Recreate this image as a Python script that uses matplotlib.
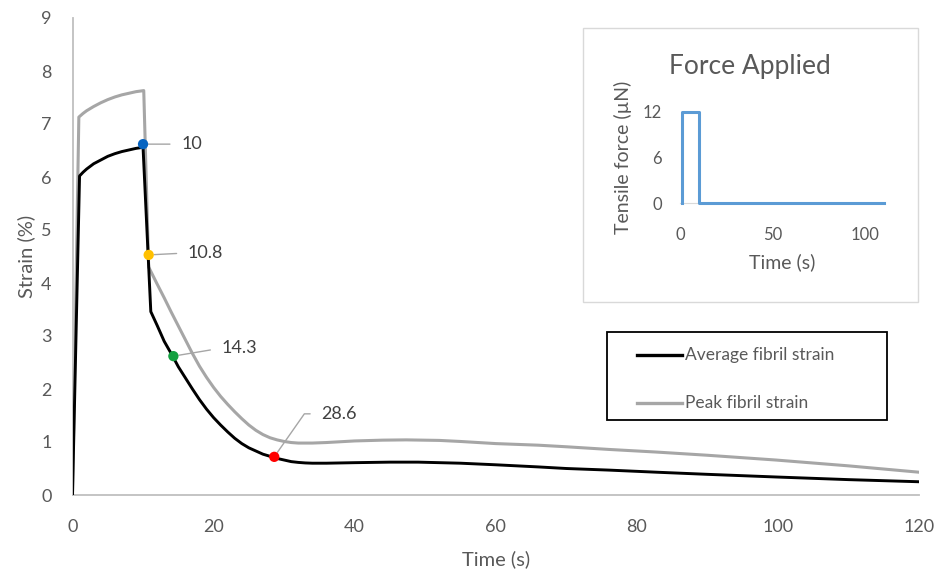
import matplotlib
matplotlib.use("Agg")
import matplotlib.pyplot as plt
from matplotlib.patches import Rectangle
from matplotlib.lines import Line2D

plt.rcParams['font.family'] = ['Lato', 'DejaVu Sans']

# average fibril strain (%)
time_avg = [0, 1.0, 1.5, 2, 3, 4, 5, 6, 7, 8, 9, 10, 11.1, 12, 13, 14.2, 15, 16, 17, 18,
            19, 20, 21, 22, 23, 24, 25, 26, 27, 28, 29, 30, 31, 32, 33, 34, 36, 40, 45,
            49, 55, 60, 66, 70, 76, 82.8, 90, 99.7, 110, 120]
strain_avg = [0, 6.02, 6.09, 6.15, 6.25, 6.32, 6.39, 6.44, 6.48, 6.51, 6.54, 6.56, 3.46,
              3.2, 2.9, 2.62, 2.42, 2.21, 2.0, 1.8, 1.62, 1.46, 1.32, 1.19, 1.07, 0.97,
              0.89, 0.83, 0.77, 0.73, 0.69, 0.66, 0.63, 0.615, 0.605, 0.6, 0.6, 0.61,
              0.62, 0.62, 0.6, 0.57, 0.53, 0.5, 0.47, 0.43, 0.39, 0.34, 0.29, 0.25]

# peak fibril strain (%)
time_peak = [0, 0.9, 1.5, 2, 3, 4, 5, 6, 7, 8, 9, 10.1, 10.8, 12, 13, 14, 15, 16, 17,
             18, 19, 20, 21, 22, 23, 24, 25, 26, 27, 28, 29, 30, 31, 32, 34, 36, 40,
             44, 47.3, 52, 55, 60, 66, 70, 76, 82.8, 90, 99.7, 110, 120]
strain_peak = [0, 7.13, 7.2, 7.25, 7.33, 7.4, 7.46, 7.51, 7.55, 7.58, 7.61, 7.63, 4.3,
               3.98, 3.72, 3.45, 3.19, 2.93, 2.67, 2.43, 2.22, 2.03, 1.86, 1.71, 1.57,
               1.44, 1.32, 1.22, 1.14, 1.08, 1.04, 1.01, 0.99, 0.98, 0.98, 0.99, 1.02,
               1.035, 1.04, 1.03, 1.01, 0.97, 0.94, 0.91, 0.86, 0.81, 0.75, 0.66, 0.55,
               0.43]

# highlighted points
mark_time = [10, 10.8, 14.3, 28.6]
mark_strain = [6.62, 4.53, 2.62, 0.72]
mark_labels = ['10', '10.8', '14.3', '28.6']
mark_colors = ['#0563C1', '#FFC000', '#14A040', '#FF0000']

# inset: force applied
time_force = [1, 1, 10, 10, 110]
force = [0, 12, 12, 0, 0]

TXT = '#595959'
GRAY = '#A6A6A6'
AXC = '#BFBFBF'

fig = plt.figure(figsize=(9.38, 5.72), dpi=100)
W, H = 938, 572

ax = fig.add_axes([72.5 / W, 1 - 495 / H, (919 - 72.5) / W, (495 - 18) / H])
ax.plot(time_peak, strain_peak, color=GRAY, lw=2.2, label='Peak fibril strain', zorder=2)
ax.plot(time_avg, strain_avg, color='black', lw=2.1, label='Average fibril strain', zorder=3)
ax.scatter(mark_time, mark_strain, s=55, c=mark_colors, zorder=5, linewidths=0)

ax.set_xlim(0, 120)
ax.set_ylim(0, 9)
ax.set_xticks(range(0, 121, 20))
ax.set_yticks(range(0, 10))
for s in ['top', 'right']:
    ax.spines[s].set_visible(False)
for s in ['left', 'bottom']:
    ax.spines[s].set_color(AXC)
    ax.spines[s].set_linewidth(1.3)
ax.tick_params(axis='both', length=0, labelsize=13, labelcolor=TXT)
ax.tick_params(axis='x', pad=17)
ax.tick_params(axis='y', pad=15)
ax.set_xlabel('Time (s)', fontsize=14.5, color=TXT, labelpad=11)
ax.set_ylabel('Strain (%)', fontsize=14.5, color=TXT, labelpad=4)

# data labels with leader lines (offsets in pixels)
offsets = [(38, 0), (39, 2), (48, 8), (47, 43)]
styles = ['arc3,rad=0', 'arc3,rad=0', 'arc3,rad=0', 'angle,angleA=0,angleB=55,rad=0']
for t, v, lab, off, cs in zip(mark_time, mark_strain, mark_labels, offsets, styles):
    ax.annotate(lab, (t, v), xytext=off, textcoords='offset pixels',
                ha='left', va='center', fontsize=13, color='#404040',
                arrowprops=dict(arrowstyle='-', color=GRAY, lw=1.0, shrinkA=6, shrinkB=4,
                                connectionstyle=cs, relpos=(0, 0.5)))

# legend box drawn in figure pixels
lx0, ly0, lx1, ly1 = 607, 332, 887, 420
fig.patches.append(Rectangle((lx0 / W, 1 - ly1 / H), (lx1 - lx0) / W, (ly1 - ly0) / H,
                             transform=fig.transFigure, facecolor='white',
                             edgecolor='black', lw=1.3, zorder=6))
for name, col, lw, yy in [('Average fibril strain', 'black', 2.4, 355),
                          ('Peak fibril strain', GRAY, 2.4, 403)]:
    fig.lines.append(Line2D([637 / W, 682 / W], [1 - yy / H] * 2, color=col, lw=lw,
                            transform=fig.transFigure, zorder=7))
    fig.text(685 / W, 1 - yy / H, name, fontsize=12.5, color=TXT, va='center',
             ha='left', zorder=7)

# inset panel
fig.patches.append(Rectangle((583 / W, 1 - 302 / H), 335 / W, 274 / H,
                             transform=fig.transFigure, facecolor='white',
                             edgecolor='#D9D9D9', lw=1.0, zorder=4))
fig.text(750 / W, 1 - 67 / H, 'Force Applied', fontsize=19, color=TXT,
         ha='center', va='center', zorder=7)
ins = fig.add_axes([680 / W, 1 - 203 / H, 203.5 / W, 91 / H], zorder=8)
ins.patch.set_alpha(0)
ins.plot(time_force, force, color='#5B9BD5', lw=2.2, clip_on=False, zorder=4)
ins.set_xlim(0, 110)
ins.set_ylim(0, 12)
ins.set_xticks([0, 50, 100])
ins.set_yticks([0, 6, 12])
for s in ['top', 'right', 'left']:
    ins.spines[s].set_visible(False)
ins.spines['bottom'].set_color('#D9D9D9')
ins.tick_params(axis='both', length=0, labelsize=12, labelcolor=TXT)
ins.tick_params(axis='x', pad=17)
ins.tick_params(axis='y', pad=13)
ins.set_xlabel('Time (s)', fontsize=14, color=TXT, labelpad=8)
ins.set_ylabel('Tensile force (µN)', fontsize=14, color=TXT, labelpad=8)

fig.savefig('out.png', dpi=100)
